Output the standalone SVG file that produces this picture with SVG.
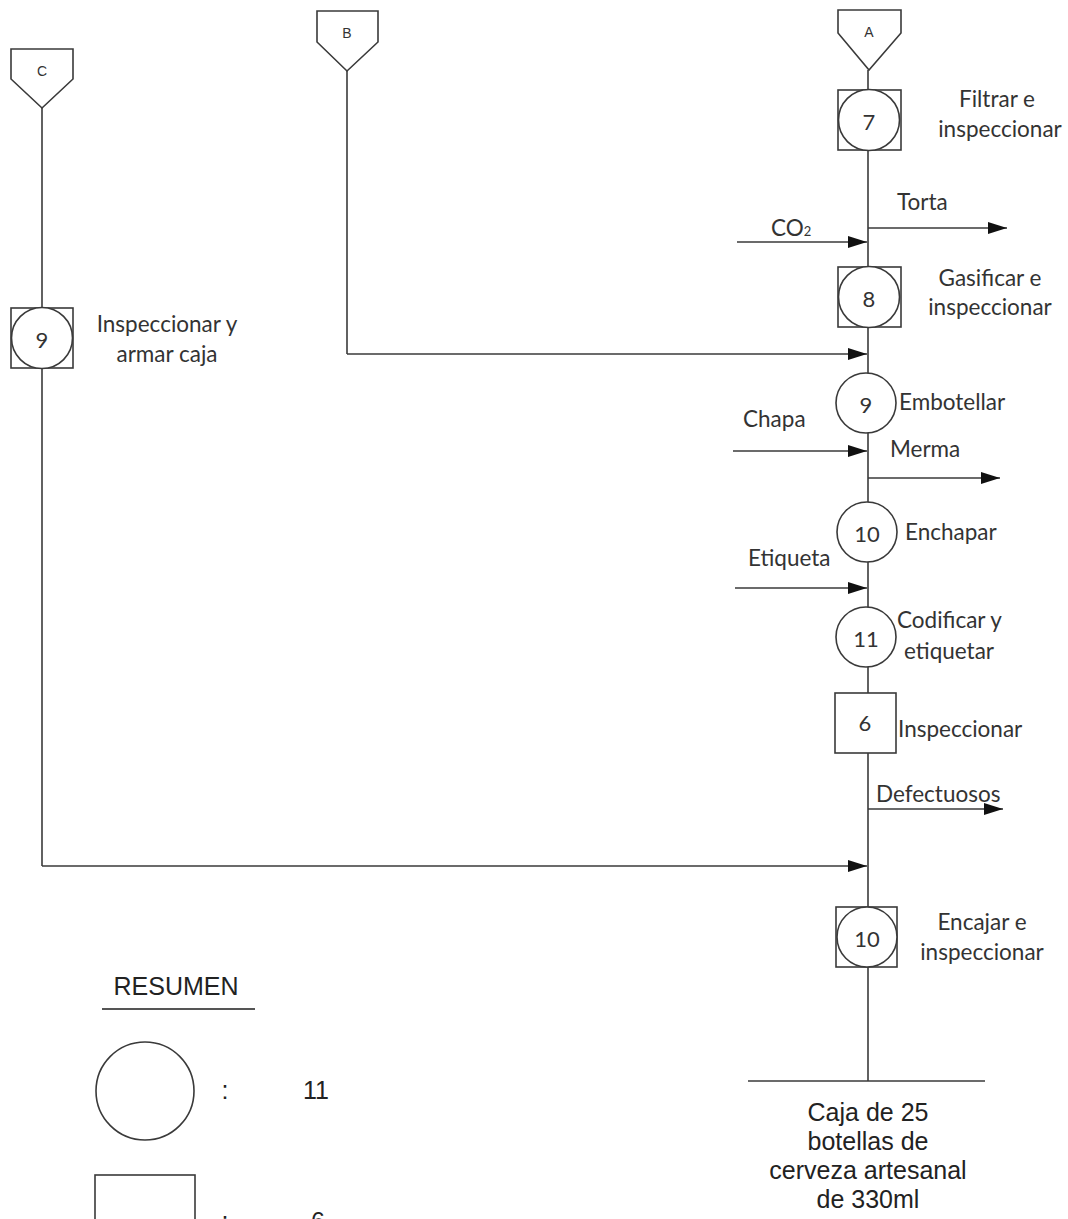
<svg xmlns="http://www.w3.org/2000/svg" width="1068" height="1219" viewBox="0 0 1068 1219">
<style>
.s{fill:none;stroke:#3a3a3a;stroke-width:1.6}
.w{fill:#fff;stroke:#3a3a3a;stroke-width:1.6}
.l{font-family:Lato,"Open Sans",sans-serif;font-size:22.5px;fill:#333}
.m{text-anchor:middle}
.n{font-family:Lato,"Open Sans",sans-serif;font-size:22px;fill:#333;text-anchor:middle;dominant-baseline:central}
.p{font-family:"Liberation Sans",Arial,sans-serif;font-size:14px;fill:#333;text-anchor:middle;dominant-baseline:central}
.a{font-family:"Liberation Sans",Arial,sans-serif;font-size:25px;fill:#222}
</style>
<defs>
<marker id="ah" markerUnits="userSpaceOnUse" markerWidth="20" markerHeight="12" refX="19" refY="6" orient="auto">
<path d="M0,0 L19,6 L0,12 Z" fill="#111"/>
</marker>
</defs>
<rect width="1068" height="1219" fill="#fff"/>
<g id="connectors">
<line class="s" x1="868" y1="70" x2="868" y2="1081"/>
<line class="s" x1="347" y1="71" x2="347" y2="354"/>
<line class="s" x1="347" y1="354" x2="867" y2="354" marker-end="url(#ah)"/>
<line class="s" x1="42" y1="108" x2="42" y2="308"/>
<line class="s" x1="42" y1="368" x2="42" y2="866"/>
<line class="s" x1="42" y1="866" x2="867" y2="866" marker-end="url(#ah)"/>
<line class="s" x1="737" y1="242" x2="867" y2="242" marker-end="url(#ah)"/>
<line class="s" x1="868" y1="228" x2="1007" y2="228" marker-end="url(#ah)"/>
<line class="s" x1="733" y1="451" x2="867" y2="451" marker-end="url(#ah)"/>
<line class="s" x1="868" y1="478" x2="1000" y2="478" marker-end="url(#ah)"/>
<line class="s" x1="735" y1="588" x2="867" y2="588" marker-end="url(#ah)"/>
<line class="s" x1="868" y1="809" x2="1003" y2="809" marker-end="url(#ah)"/>
<line class="s" x1="748" y1="1081" x2="985" y2="1081"/>
</g>
<g id="conn-A">
<path class="w" d="M838,10 H901 V33 L869,70 L838,33 Z"/>
<text class="p" x="869" y="32">A</text>
</g>
<g id="conn-B">
<path class="w" d="M317,11 H378 V42 L347,71 L317,42 Z"/>
<text class="p" x="347" y="33">B</text>
</g>
<g id="conn-C">
<path class="w" d="M11,49 H73 V79 L42,108 L11,79 Z"/>
<text class="p" x="42" y="71">C</text>
</g>
<g id="node-7">
<rect class="w" x="838" y="90" width="63" height="60"/>
<circle class="w" cx="869" cy="120" r="30.5"/>
<text class="n" x="869" y="121">7</text>
<text class="l m" x="997" y="107">Filtrar e</text>
<text class="l m" x="1000" y="137">inspeccionar</text>
</g>
<g id="node-8">
<rect class="w" x="838" y="267" width="63" height="60"/>
<circle class="w" cx="869" cy="297" r="30.5"/>
<text class="n" x="869" y="298">8</text>
<text class="l m" x="990" y="286">Gasificar e</text>
<text class="l m" x="990" y="315">inspeccionar</text>
</g>
<g id="node-9c">
<rect class="w" x="11" y="308" width="62" height="60"/>
<circle class="w" cx="42" cy="338" r="30.5"/>
<text class="n" x="42" y="339">9</text>
<text class="l m" x="167" y="332">Inspeccionar y</text>
<text class="l m" x="167" y="362">armar caja</text>
</g>
<g id="node-9">
<circle class="w" cx="866" cy="403" r="30"/>
<text class="n" x="866" y="404">9</text>
<text class="l" x="899" y="410">Embotellar</text>
</g>
<g id="node-10">
<circle class="w" cx="867" cy="532" r="30"/>
<text class="n" x="867" y="533">10</text>
<text class="l" x="905" y="540">Enchapar</text>
</g>
<g id="node-11">
<circle class="w" cx="866" cy="637" r="30"/>
<text class="n" x="866" y="638">11</text>
<text class="l" x="897" y="628">Codificar y</text>
<text class="l" x="904" y="659">etiquetar</text>
</g>
<g id="node-6">
<rect class="w" x="835" y="693" width="61" height="60"/>
<text class="n" x="865" y="722">6</text>
<text class="l" x="898" y="737">Inspeccionar</text>
</g>
<g id="node-10b">
<rect class="w" x="836" y="907" width="61" height="60"/>
<circle class="w" cx="867" cy="937" r="30"/>
<text class="n" x="867" y="938">10</text>
<text class="l m" x="982" y="930">Encajar e</text>
<text class="l m" x="982" y="960">inspeccionar</text>
</g>
<g id="labels">
<text class="l" x="897" y="210">Torta</text>
<text class="l" x="771" y="236" font-size="21">CO<tspan font-size="13">2</tspan></text>
<text class="l" x="743" y="427">Chapa</text>
<text class="l" x="890" y="457">Merma</text>
<text class="l" x="748" y="566">Etiqueta</text>
<text class="l" x="876" y="802">Defectuosos</text>
</g>
<g id="end">
<text class="a m" x="868" y="1121">Caja de 25</text>
<text class="a m" x="868" y="1150">botellas de</text>
<text class="a m" x="868" y="1179">cerveza artesanal</text>
<text class="a m" x="868" y="1208">de 330ml</text>
</g>
<g id="legend">
<text class="a m" x="176" y="995">RESUMEN</text>
<line x1="102" y1="1009" x2="255" y2="1009" stroke="#555" stroke-width="2"/>
<circle class="w" cx="145" cy="1091" r="49"/>
<text class="a m" x="225" y="1099">:</text>
<text class="a m" x="316" y="1099">11</text>
<rect class="w" x="95" y="1175" width="100" height="80"/>
<text class="a m" x="225" y="1230">:</text>
<text class="a m" x="318" y="1230">6</text>
</g>
</svg>
